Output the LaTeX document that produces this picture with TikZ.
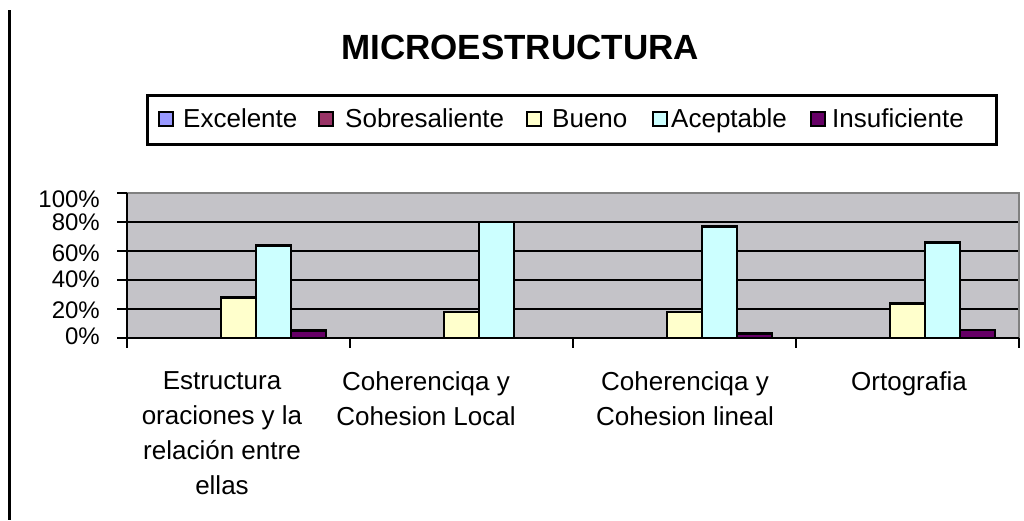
\documentclass[tikz,border=0pt]{standalone}
\usepackage{fontspec}
\setmainfont{Liberation Sans}
\usepackage{tikz}

\definecolor{excelente}{HTML}{9999FF}
\definecolor{sobresaliente}{HTML}{993366}
\definecolor{bueno}{HTML}{FFFFCC}
\definecolor{aceptable}{HTML}{CCFFFF}
\definecolor{insuficiente}{HTML}{660066}
\definecolor{plotgray}{HTML}{C4C3C8}
\definecolor{framegray}{HTML}{808080}

\begin{document}
\begin{tikzpicture}[x=1pt,y=-1pt,
    grid line/.style={black, line width=2.6pt},
    bar/.style={draw=black, line width=2.6pt},
    key box/.style={draw=black, line width=2pt, minimum size=14pt, inner sep=0pt},
    key text/.style={anchor=base west, inner sep=0pt, font=\fontsize{26}{30}\selectfont},
    tick label/.style={anchor=base east, inner sep=0pt, font=\fontsize{24}{28}\selectfont},
    category/.style={anchor=north, inner sep=0pt, align=center, font=\fontsize{26}{35}\selectfont}]
      \useasboundingbox (0,0) rectangle (1024,520);

      % Define the zero line and the pixels per percent
      \def\Zero{338}
      \def\Scale{1.45}

      % Frame line on the left
      \draw[line width=3pt] (9,10) -- (9,520);

      % Title
      \node[anchor=base, inner sep=0pt, font=\fontsize{35}{40}\selectfont\bfseries] (title) at (520,59) {MICROESTRUCTURA};

      % Legend
      \draw[line width=3pt] (147,95) rectangle (996,144);
      \node[key box, fill=excelente] (kexc) at (166,119) {};
      \node[key text] (texc) at (183,127) {Excelente};
      \node[key box, fill=sobresaliente] (ksob) at (326,119) {};
      \node[key text] (tsob) at (345,127) {Sobresaliente};
      \node[key box, fill=bueno] (kbue) at (534,119) {};
      \node[key text] (tbue) at (552,127) {Bueno};
      \node[key box, fill=aceptable] (kace) at (660,119) {};
      \node[key text] (tace) at (671,127) {Aceptable};
      \node[key box, fill=insuficiente] (kins) at (818,119) {};
      \node[key text] (tins) at (832,127) {Insuficiente};

      % Plot area and grid lines
      \fill[plotgray] (127,193) rectangle (1019,\Zero);
      \draw[grid line] (127,309) -- (1019,309);
      \draw[grid line] (127,280) -- (1019,280);
      \draw[grid line] (127,251) -- (1019,251);
      \draw[grid line] (127,222) -- (1019,222);
      \draw[framegray, line width=2.6pt] (127,193) -- (1019,193) -- (1019,\Zero);

      % Bars: Estructura oraciones
      \draw[bar, fill=bueno] (221,\Zero) rectangle (256,{\Zero-\Scale*28});
      \draw[bar, fill=aceptable] (256,\Zero) rectangle (291,{\Zero-\Scale*64});
      \draw[bar, fill=insuficiente] (291,\Zero) rectangle (326,{\Zero-\Scale*5});
      % Bars: Coherencia local
      \draw[bar, fill=bueno] (444,\Zero) rectangle (479,{\Zero-\Scale*18});
      \draw[bar, fill=aceptable] (479,\Zero) rectangle (514,{\Zero-\Scale*80});
      % Bars: Coherencia lineal
      \draw[bar, fill=bueno] (667,\Zero) rectangle (702,{\Zero-\Scale*18});
      \draw[bar, fill=aceptable] (702,\Zero) rectangle (737,{\Zero-\Scale*77});
      \draw[bar, fill=insuficiente] (737,\Zero) rectangle (772,{\Zero-\Scale*3});
      % Bars: Ortografia
      \draw[bar, fill=bueno] (890,\Zero) rectangle (925,{\Zero-\Scale*24});
      \draw[bar, fill=aceptable] (925,\Zero) rectangle (960,{\Zero-\Scale*66});
      \draw[bar, fill=insuficiente] (960,\Zero) rectangle (995,{\Zero-\Scale*5.5});

      % Draw the axes and ticks
      \draw[line width=2.6pt] (127,193) -- (127,\Zero);
      \draw[line width=2.6pt] (117,\Zero) -- (1019,\Zero);
      \draw[line width=2.6pt] (117,193) -- (127,193) (117,222) -- (127,222)
        (117,251) -- (127,251) (117,280) -- (127,280) (117,309) -- (127,309);
      \draw[line width=2.6pt] (127,\Zero) -- (127,348) (350,\Zero) -- (350,348)
        (573,\Zero) -- (573,348) (796,\Zero) -- (796,348) (1019,\Zero) -- (1019,348);

      % Axis labels
      \node[tick label] (p100) at (100,207) {100\%};
      \node[tick label] (p80) at (100,230) {80\%};
      \node[tick label] (p60) at (100,261) {60\%};
      \node[tick label] (p40) at (100,287) {40\%};
      \node[tick label] (p20) at (100,318) {20\%};
      \node[tick label] (p0) at (100,344) {0\%};

      % Category labels
      \node[category] (cat1) at (222,371) {Estructura\\oraciones y la\\relación entre\\ellas};
      \node[category] (cat2) at (426,371) {Coherenciqa y\\Cohesion Local};
      \node[category] (cat3) at (685,371) {Coherenciqa y\\Cohesion lineal};
      \node[category] (cat4) at (909,371) {Ortografia};
    \end{tikzpicture}
\end{document}
